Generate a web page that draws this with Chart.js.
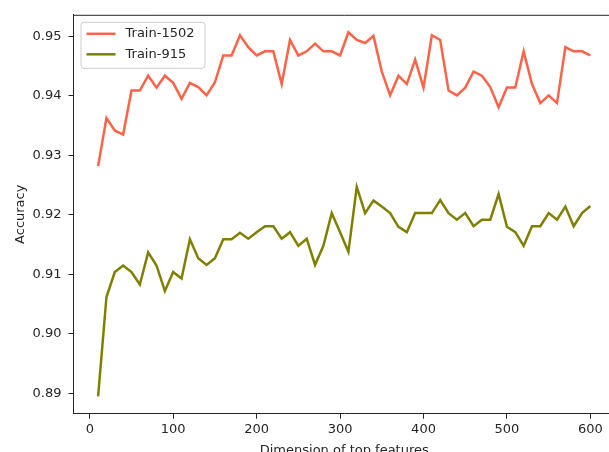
<!DOCTYPE html>
<html>
<head>
<meta charset="utf-8">
<script src="https://cdn.jsdelivr.net/npm/chart.js@4.4.1/dist/chart.umd.min.js"></script>
<style>
    html, body { margin: 0; padding: 0; background: #fff; }
    #wrap { width: 609px; height: 452px; overflow: hidden; position: relative; }
    canvas { position: absolute; left: 0; top: 0; }
</style>
</head>
<body>
<div id="wrap"><canvas id="chart" width="616" height="460"></canvas></div>
<script>
// Accuracy vs. dimension of top features

const dims = [
    10, 20, 30, 40, 50, 60, 70, 80, 90, 100,
    110, 120, 130, 140, 150, 160, 170, 180, 190, 200,
    210, 220, 230, 240, 250, 260, 270, 280, 290, 300,
    310, 320, 330, 340, 350, 360, 370, 380, 390, 400,
    410, 420, 430, 440, 450, 460, 470, 480, 490, 500,
    510, 520, 530, 540, 550, 560, 570, 580, 590, 600
];

const train1502 = [
    0.9282, 0.9363, 0.9342, 0.9335, 0.9409, 0.9409, 0.9434, 0.9414, 0.9434, 0.9422,
    0.9395, 0.9422, 0.9415, 0.9401, 0.9423, 0.9468, 0.9468, 0.9502, 0.9482, 0.9468,
    0.9475, 0.9475, 0.9420, 0.9494, 0.9468, 0.9475, 0.9488, 0.9475, 0.9475, 0.9468,
    0.9507, 0.9494, 0.9489, 0.9501, 0.9441, 0.9401, 0.9434, 0.9420, 0.9461, 0.9414,
    0.9502, 0.9494, 0.9409, 0.9401, 0.9414, 0.9441, 0.9434, 0.9415, 0.9381, 0.9414,
    0.9414, 0.9475, 0.9420, 0.9388, 0.9401, 0.9388, 0.9482, 0.9475, 0.9475, 0.9468
];

const train915 = [
    0.8895, 0.9062, 0.9104, 0.9115, 0.9104, 0.9083, 0.9137, 0.9115, 0.9072, 0.9104,
    0.9093, 0.9159, 0.9127, 0.9116, 0.9127, 0.9159, 0.9159, 0.9170, 0.9160, 0.9171,
    0.9181, 0.9181, 0.9160, 0.9171, 0.9148, 0.9160, 0.9116, 0.9148, 0.9203, 0.9171,
    0.9138, 0.9247, 0.9203, 0.9224, 0.9214, 0.9203, 0.9180, 0.9171, 0.9203, 0.9203,
    0.9203, 0.9225, 0.9203, 0.9192, 0.9203, 0.9181, 0.9192, 0.9192, 0.9235, 0.9180,
    0.9171, 0.9148, 0.9181, 0.9181, 0.9203, 0.9192, 0.9214, 0.9181, 0.9203, 0.9215
];

const seriesLabels = ['Train-1502', 'Train-915'];
const seriesColors = ['#ff6347', '#808000'];

const FONT = { family: 'DejaVu Sans', size: 13 };
const INK = '#262626';

const toPoints = (vals) => vals.map((v, i) => ({ x: dims[i], y: v }));

// matplotlib-style frame (top + right spines)
const framePlugin = {
    id: 'frame',
    afterDraw(chart) {
        const { ctx, chartArea: a } = chart;
        ctx.save();
        ctx.strokeStyle = INK;
        ctx.lineWidth = 1;
        ctx.beginPath();
        ctx.moveTo(a.left, a.top + 0.5);
        ctx.lineTo(a.right, a.top + 0.5);
        ctx.moveTo(a.right - 0.5, a.top);
        ctx.lineTo(a.right - 0.5, a.bottom);
        ctx.stroke();
        ctx.restore();
    }
};

// legend box in the upper left corner of the plot
const boxLegend = {
    id: 'boxLegend',
    afterDatasetsDraw(chart) {
        const { ctx, chartArea: a } = chart;
        const x = a.left + 7, y = a.top + 7, w = 124, h = 46, r = 3;
        ctx.save();
        ctx.fillStyle = 'rgba(255,255,255,0.8)';
        ctx.strokeStyle = '#cccccc';
        ctx.lineWidth = 1;
        ctx.beginPath();
        ctx.roundRect(x + 0.5, y + 0.5, w, h, r);
        ctx.fill();
        ctx.stroke();
        ctx.font = `${FONT.size}px ${FONT.family}`;
        ctx.textBaseline = 'middle';
        chart.data.datasets.forEach((ds, i) => {
            const ly = y + 12 + i * 20.5;
            ctx.strokeStyle = ds.borderColor;
            ctx.lineWidth = 2.5;
            ctx.beginPath();
            ctx.moveTo(x + 6, ly);
            ctx.lineTo(x + 35, ly);
            ctx.stroke();
            ctx.fillStyle = INK;
            ctx.fillText(ds.label, x + 45, ly);
        });
        ctx.restore();
    }
};

new Chart(document.getElementById('chart'), {
    type: 'line',
    data: {
        datasets: [
            { label: seriesLabels[0], data: toPoints(train1502) },
            { label: seriesLabels[1], data: toPoints(train915) }
        ].map((ds, i) => ({
            ...ds,
            borderColor: seriesColors[i],
            backgroundColor: seriesColors[i],
            borderWidth: 2.5,
            pointRadius: 0,
            tension: 0,
            fill: false
        }))
    },
    options: {
        responsive: false,
        animation: false,
        devicePixelRatio: 1,
        layout: { padding: { top: 14, left: 0, right: 1, bottom: 0 } },
        plugins: {
            legend: { display: false },
            tooltip: { enabled: false }
        },
        scales: {
            x: {
                type: 'linear',
                min: -19.5,
                max: 629.5,
                afterFit: (s) => { s.height = 46.3; },
                border: { display: true, color: INK, width: 1 },
                grid: { drawOnChartArea: false, drawTicks: true, tickLength: 5, color: INK },
                ticks: {
                    stepSize: 100,
                    includeBounds: false,
                    padding: 3,
                    maxRotation: 0,
                    color: INK,
                    font: FONT
                },
                title: {
                    display: true,
                    text: 'Dimension of top features',
                    color: INK,
                    font: FONT,
                    padding: { top: 0, bottom: 2 }
                }
            },
            y: {
                type: 'linear',
                min: 0.88658,
                max: 0.95364,
                afterFit: (s) => { s.width = 73.5; },
                border: { display: true, color: INK, width: 1 },
                grid: { drawOnChartArea: false, drawTicks: true, tickLength: 5, color: INK },
                ticks: {
                    stepSize: 0.01,
                    includeBounds: false,
                    padding: 7,
                    color: INK,
                    font: FONT,
                    callback: (v) => v.toFixed(2)
                },
                title: {
                    display: true,
                    text: 'Accuracy',
                    color: INK,
                    font: FONT,
                    padding: { top: 13, bottom: 0 }
                }
            }
        }
    },
    plugins: [framePlugin, boxLegend]
});
</script>
</body>
</html>
